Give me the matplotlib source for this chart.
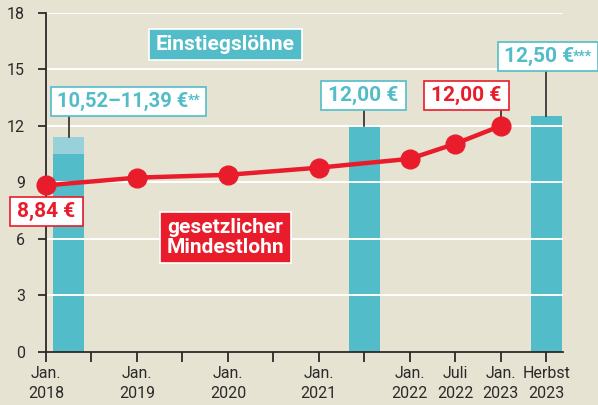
import matplotlib
matplotlib.use("Agg")
import matplotlib.pyplot as plt
from matplotlib.patches import Rectangle

# Data (x in half-year steps from Jan. 2018)
tick_pos = list(range(12))
label_pos = [0, 2, 4, 6, 8, 9, 10, 11]
tick_labels = ["Jan.\n2018", "Jan.\n2019", "Jan.\n2020", "Jan.\n2021",
               "Jan.\n2022", "Juli\n2022", "Jan.\n2023", "Herbst\n2023"]

mw_x = [0, 2, 4, 6, 8, 9, 10]
mw_y = [8.84, 9.25, 9.40, 9.78, 10.25, 11.05, 12.00]

bar_x = [0.5, 7, 11]
bar_low = [10.52, 12.00, 12.50]
bar_high = [11.39, 12.00, 12.50]

bg = "#e6e3d3"
teal = "#52bdc8"
teal_light = "#98d1d9"
red = "#e91c2b"
dark = "#2b2a28"

plt.rcParams["font.family"] = ["Roboto", "DejaVu Sans"]

fig = plt.figure(figsize=(5.98, 4.05), dpi=100, facecolor=bg)
ax = fig.add_axes([46 / 598, 53.3 / 405, 517 / 598, 338.7 / 405])
ax.set_facecolor(bg)

ax.set_xlim(0, 11.37)
ax.set_ylim(0, 18)

# bars: lower solid part and lighter range on top
w = 0.68
ax.bar(bar_x, bar_low, width=w, color=teal, zorder=1)
ax.bar(bar_x, [h - l for h, l in zip(bar_high, bar_low)], bottom=bar_low,
       width=w, color=teal_light, zorder=1)

# gridlines
for y in range(3, 19, 3):
    ax.axhline(y, color="white", lw=1.4, zorder=2)

# minimum wage line
ax.plot(mw_x, mw_y, color=red, lw=3.2, marker="o", ms=13.5,
        solid_capstyle="round", zorder=5, clip_on=False)

# axes styling
for s in ["top", "right"]:
    ax.spines[s].set_visible(False)
for s in ["left", "bottom"]:
    ax.spines[s].set_color(dark)
    ax.spines[s].set_linewidth(1.3)
ax.set_yticks(range(0, 19, 3))
ax.tick_params(axis="y", length=6, width=1.3, color=dark, labelsize=11.5,
               labelcolor=dark, pad=9)
ax.set_xticks(tick_pos)
ax.set_xticklabels([])
ax.tick_params(axis="x", length=7, width=1.3, color=dark, direction="out")
for x, lab in zip(label_pos, tick_labels):
    ax.text(x, -0.75, lab, ha="center", va="top", fontsize=11.5, color=dark,
            linespacing=1.4, clip_on=False)

fig.canvas.draw()
renderer = fig.canvas.get_renderer()
inv = ax.transData.inverted()


def box(x, y, text, fc, ec, tc, size=15, padx=7, pady=5, stars=""):
    main = ax.text(x, y, text, ha="center", va="center", fontsize=size,
                   fontweight="bold", color=tc, zorder=9, clip_on=False,
                   linespacing=1.1)
    bb = main.get_window_extent(renderer)
    x0, y0, x1, y1 = bb.x0, bb.y0, bb.x1, bb.y1
    if stars:
        # shift main text left so text + stars stay centred on x
        sw = 5 * len(stars)
        main.set_position((inv.transform((bb.x0 + bb.width / 2 - sw / 2, 0))[0], y))
        bb = main.get_window_extent(renderer)
        st = ax.text(*inv.transform((bb.x1 - 1, bb.y1 - 2)), stars,
                     ha="left", va="top", fontsize=10, fontweight="bold",
                     color=tc, zorder=9, clip_on=False)
        sb = st.get_window_extent(renderer)
        x0, y0, x1, y1 = bb.x0, bb.y0, max(bb.x1, sb.x1), bb.y1
    (dx0, dy0) = inv.transform((x0 - padx, y0 - pady))
    (dx1, dy1) = inv.transform((x1 + padx, y1 + pady))
    ax.add_patch(Rectangle((dx0, dy0), dx1 - dx0, dy1 - dy0, fc=fc, ec=ec,
                           lw=1.2, zorder=8, clip_on=False))


# connectors from marks to boxes
ax.plot([bar_x[0], bar_x[0]], [bar_high[0], 12.46], color=dark, lw=1.2, zorder=3)
ax.plot([bar_x[1], bar_x[1]], [bar_high[1], 12.8], color=dark, lw=1.2, zorder=3)
ax.plot([mw_x[-1], mw_x[-1]], [mw_y[-1], 12.8], color=dark, lw=1.2, zorder=4)
ax.plot([bar_x[2], bar_x[2]], [bar_high[2], 14.86], color=dark, lw=1.2, zorder=3)

box(3.94, 16.35, "Einstiegslöhne", teal, "white", "white", pady=6)
box(1.80, 13.32, "10,52–11,39 €", "white", teal, teal, size=14.5, padx=6, stars="**")
box(6.98, 13.6, "12,00 €", "white", teal, teal)
box(9.25, 13.6, "12,00 €", "white", red, red)
box(11.0, 15.68, "12,50 €", "white", teal, teal, padx=6, stars="***")
box(0.01, 7.47, "8,84 €", "white", red, red)
box(3.95, 6.07, "gesetzlicher\nMindestlohn", red, "white", "white", pady=6)

fig.savefig("out.png", dpi=100, facecolor=bg)
